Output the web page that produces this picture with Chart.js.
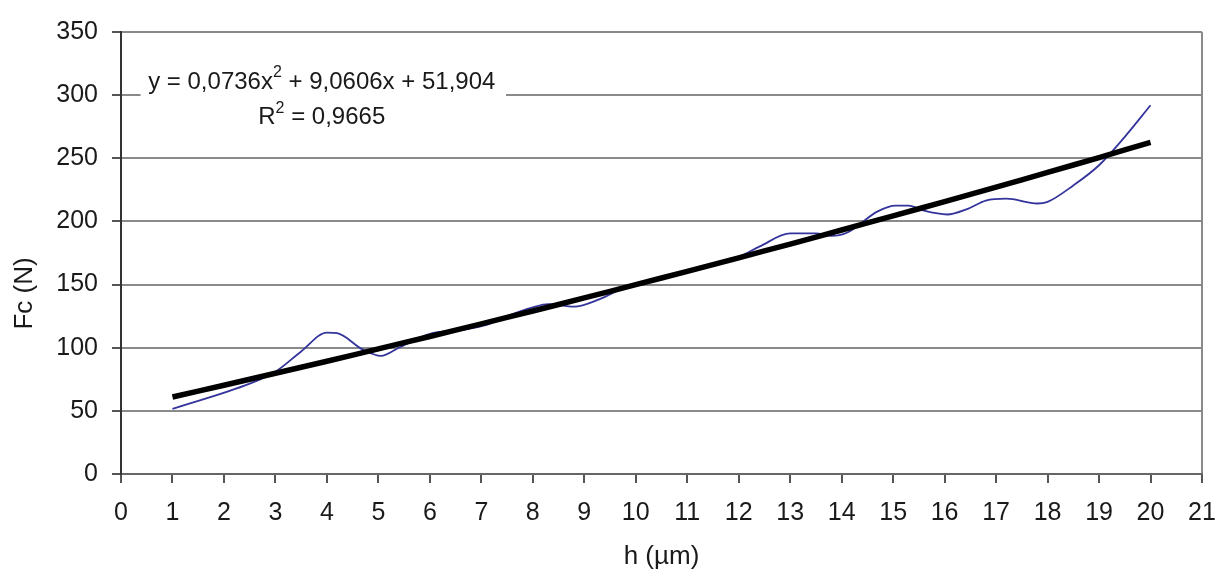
<!DOCTYPE html>
<html>
<head>
<meta charset="utf-8">
<script src="https://cdn.jsdelivr.net/npm/chart.js@4.4.0/dist/chart.umd.min.js"></script>
<style>
  html, body { margin: 0; padding: 0; background: #ffffff; }
  #wrap { width: 1217px; height: 572px; }
</style>
</head>
<body>
<div id="wrap"><canvas id="c" width="1217" height="572"></canvas></div>
<script>
// Measured cutting force Fc (N) against depth h (µm)
const hMeasured  = [1, 2.5, 3, 3.5, 4, 4.2, 4.7, 5.05, 5.4, 6, 6.6, 7.1, 7.5, 8, 8.3, 8.8, 9.3, 9.8, 10.5, 11, 11.5, 12, 12.4, 13, 13.5, 13.8, 14.1, 14.7, 15.05, 15.3, 15.6, 16.05, 16.45, 16.8, 17.2, 17.8, 18, 18.5, 19, 19.5, 20];
const fcMeasured = [51.5, 71.5, 81, 97, 112, 111.5, 98.5, 93.5, 100, 111, 114, 118, 125, 132, 134.5, 132.5, 138.5, 148, 155.5, 160, 166, 172, 180, 190.5, 190.5, 188.5, 191, 208, 212.5, 212.5, 208.5, 205.5, 210, 216.5, 218, 214.2, 215.5, 228.5, 244.5, 267, 292];

// Second-order polynomial trend line
const hTrend  = [1, 2, 3, 4, 5, 6, 7, 8, 9, 10, 11, 12, 13, 14, 15, 16, 17, 18, 19, 20];
const fcTrend = [61.0, 70.3, 79.8, 89.3, 99.1, 108.9, 118.9, 129.1, 139.4, 149.9, 160.5, 171.2, 182.1, 193.2, 204.4, 215.7, 227.2, 238.8, 250.6, 262.6];

// Axis ranges and titles
const xRange = [0, 21];
const yRange = [0, 350];
const xStep = 1;
const yStep = 50;
const xTitle = 'h (µm)';
const yTitle = 'Fc (N)';

// Trend line equation text (superscripts marked separately)
const equationLine = [['y = 0,0736x', false], ['2', true], [' + 9,0606x + 51,904', false]];
const r2Line = [['R', false], ['2', true], [' = 0,9665', false]];

const FONT = '"Liberation Sans", Arial, sans-serif';

function toPoints(xs, ys) {
  return xs.map((v, i) => ({ x: v, y: ys[i] }));
}

function drawRich(ctx, parts, cx, cy, size, supSize, supRise) {
  const widths = parts.map(([t, sup]) => {
    ctx.font = (sup ? supSize : size) + 'px ' + FONT;
    return ctx.measureText(t).width;
  });
  const total = widths.reduce((a, b) => a + b, 0);
  let xPos = cx - total / 2;
  ctx.textBaseline = 'middle';
  ctx.textAlign = 'left';
  parts.forEach(([t, sup], i) => {
    ctx.font = (sup ? supSize : size) + 'px ' + FONT;
    ctx.fillText(t, xPos, sup ? cy - supRise : cy);
    xPos += widths[i];
  });
}

// Equation box over the plot and the vertical axis title
const annotations = {
  id: 'annotations',
  beforeDatasetsDraw(chart) {
    const { ctx, scales: { x, y } } = chart;
    ctx.save();
    const left = x.getPixelForValue(0.38);
    const right = x.getPixelForValue(7.48);
    const top = y.getPixelForValue(322);
    const bottom = y.getPixelForValue(268);
    ctx.fillStyle = '#ffffff';
    ctx.fillRect(left, top, right - left, bottom - top);
    ctx.fillStyle = '#1a1a1a';
    const cx = x.getPixelForValue(3.9);
    drawRich(ctx, equationLine, cx, y.getPixelForValue(310.5), 24, 16, 9);
    drawRich(ctx, r2Line, cx, y.getPixelForValue(282.3), 24, 16, 9);
    ctx.restore();
  },
  afterDraw(chart) {
    const { ctx, scales: { y } } = chart;
    ctx.save();
    ctx.translate(25, y.getPixelForValue(143));
    ctx.rotate(-Math.PI / 2);
    ctx.fillStyle = '#1a1a1a';
    ctx.font = '26px ' + FONT;
    ctx.textAlign = 'center';
    ctx.textBaseline = 'middle';
    ctx.fillText(yTitle, 0, 0);
    ctx.restore();
  }
};

new Chart(document.getElementById('c'), {
  type: 'line',
  data: {
    datasets: [
      {
        label: 'Fc',
        data: toPoints(hMeasured, fcMeasured),
        borderColor: '#34349c',
        borderWidth: 1.8,
        pointRadius: 0,
        cubicInterpolationMode: 'monotone',
        fill: false,
        order: 2
      },
      {
        label: 'Trend',
        data: toPoints(hTrend, fcTrend),
        borderColor: '#000000',
        borderWidth: 5.5,
        pointRadius: 0,
        tension: 0.4,
        fill: false,
        order: 1
      }
    ]
  },
  options: {
    responsive: false,
    animation: false,
    events: [],
    layout: { padding: { left: 0, right: 15, top: 32, bottom: 0 } },
    plugins: {
      legend: { display: false },
      tooltip: { enabled: false }
    },
    scales: {
      x: {
        type: 'linear',
        min: xRange[0],
        max: xRange[1],
        afterFit(scale) {
          scale.height = 98;
          scale.paddingLeft = 0;
          scale.paddingRight = 0;
        },
        ticks: {
          stepSize: xStep,
          color: '#1a1a1a',
          font: { family: FONT, size: 25 },
          padding: 15,
          maxRotation: 0,
          autoSkip: false
        },
        grid: {
          color: (c) => (c.tick && c.tick.value === xRange[1]) ? '#8a8a8a' : 'rgba(0,0,0,0)',
          lineWidth: 2,
          tickColor: '#555555',
          tickLength: 9,
          tickWidth: 2
        },
        border: { display: true, color: '#666666', width: 2 },
        title: {
          display: true,
          text: xTitle,
          color: '#1a1a1a',
          font: { family: FONT, size: 26 },
          padding: { top: 0, bottom: 0 }
        }
      },
      y: {
        min: yRange[0],
        max: yRange[1],
        afterFit(scale) {
          scale.width = 121;
          scale.paddingTop = 0;
          scale.paddingBottom = 0;
        },
        ticks: {
          stepSize: yStep,
          color: '#1a1a1a',
          font: { family: FONT, size: 25 },
          padding: 14
        },
        grid: {
          color: '#8a8a8a',
          lineWidth: 2,
          tickColor: '#555555',
          tickLength: 9,
          tickWidth: 2
        },
        border: { display: true, color: '#333333', width: 2 },
        title: { display: false }
      }
    }
  },
  plugins: [annotations]
});
</script>
</body>
</html>
